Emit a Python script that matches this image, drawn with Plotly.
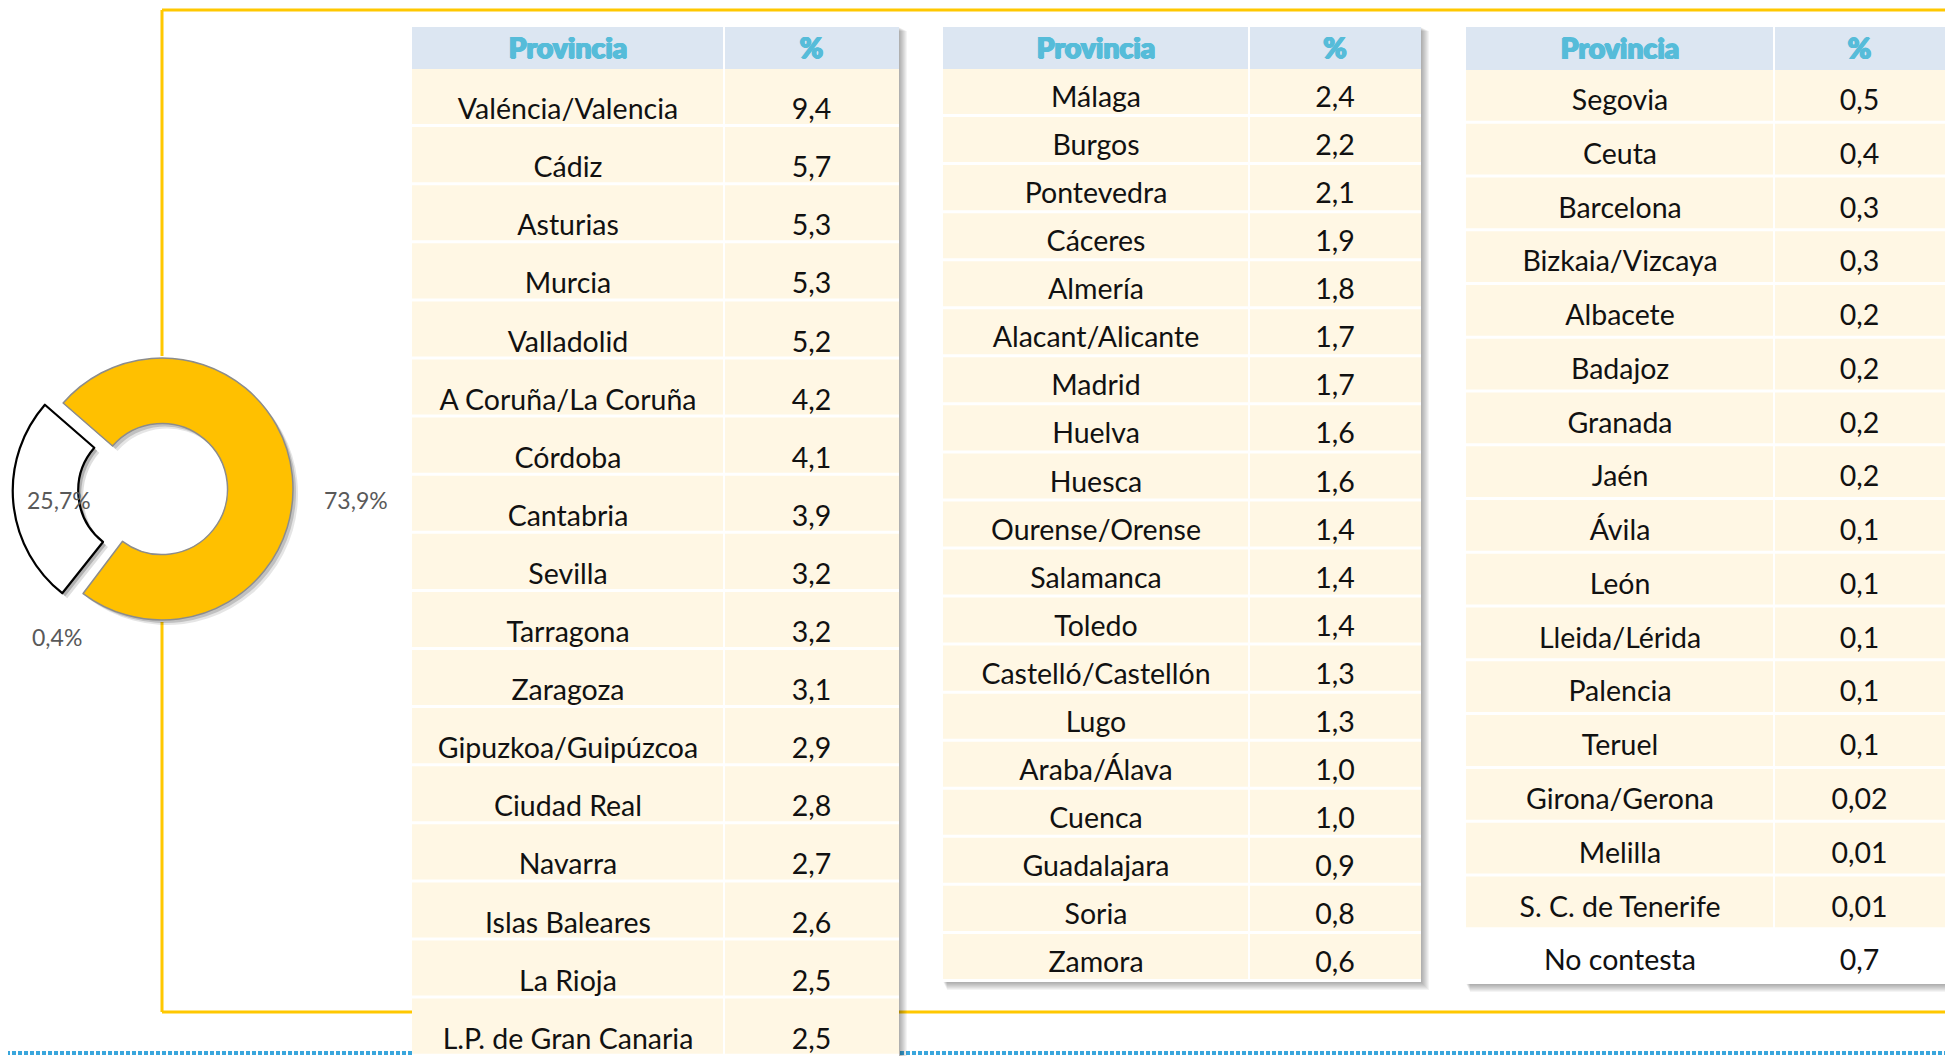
import plotly.graph_objects as go

W, H = 1953, 1056
OFF = 8  # page body margin offset so that coordinates match screen pixels

# ---------------- data ----------------
donut_labels = ["Sí", "No contesta", "No"]
donut_values = [73.9, 0.4, 25.7]
donut_colors = ["#FFC000", "rgba(0,0,0,0)", "#FFFFFF"]

header_labels = ["Provincia", "%"]

t1_prov = ["Valéncia/Valencia", "Cádiz", "Asturias", "Murcia", "Valladolid",
           "A Coruña/La Coruña", "Córdoba", "Cantabria", "Sevilla", "Tarragona",
           "Zaragoza", "Gipuzkoa/Guipúzcoa", "Ciudad Real", "Navarra",
           "Islas Baleares", "La Rioja", "L.P. de Gran Canaria"]
t1_pct = [9.4, 5.7, 5.3, 5.3, 5.2, 4.2, 4.1, 3.9, 3.2, 3.2, 3.1, 2.9, 2.8, 2.7,
          2.6, 2.5, 2.5]

t2_prov = ["Málaga", "Burgos", "Pontevedra", "Cáceres", "Almería",
           "Alacant/Alicante", "Madrid", "Huelva", "Huesca", "Ourense/Orense",
           "Salamanca", "Toledo", "Castelló/Castellón", "Lugo", "Araba/Álava",
           "Cuenca", "Guadalajara", "Soria", "Zamora"]
t2_pct = [2.4, 2.2, 2.1, 1.9, 1.8, 1.7, 1.7, 1.6, 1.6, 1.4, 1.4, 1.4, 1.3, 1.3,
          1.0, 1.0, 0.9, 0.8, 0.6]

t3_prov = ["Segovia", "Ceuta", "Barcelona", "Bizkaia/Vizcaya", "Albacete",
           "Badajoz", "Granada", "Jaén", "Ávila", "León", "Lleida/Lérida",
           "Palencia", "Teruel", "Girona/Gerona", "Melilla",
           "S. C. de Tenerife", "No contesta"]
t3_pct = [0.5, 0.4, 0.3, 0.3, 0.2, 0.2, 0.2, 0.2, 0.1, 0.1, 0.1, 0.1, 0.1,
          0.02, 0.01, 0.01, 0.7]


def fmt(v):
    s = f"{v:.1f}" if round(v, 1) == v else f"{v:.2f}"
    return s.replace(".", ",")


# ---------------- styles ----------------
YELLOW_LINE = "#FFC800"
HEADER_FILL = "#DCE6F2"
ROW_FILL = "#FFF7E4"
HDR_COLOR = "#56BCD9"
HEADER_FONT = dict(family="Lato", size=28.5, color=HDR_COLOR, weight=900,
                   shadow=(f"0.9px 0 0 {HDR_COLOR}, -0.9px 0 0 {HDR_COLOR}, "
                           f"0 0.7px 0 {HDR_COLOR}, 0 -0.4px 0 {HDR_COLOR}"))
BODY_FONT = dict(family="Lato", size=28.5, color="#111111")

tables = [
    dict(prov=t1_prov, pct=t1_pct, x0=412, xd=724, x1=899, ht=27, hb=69,
         pitch=58.1, toff=43, white_last=False),
    dict(prov=t2_prov, pct=t2_pct, x0=943, xd=1249, x1=1421, ht=27, hb=69,
         pitch=48.05, toff=31, white_last=False),
    dict(prov=t3_prov, pct=t3_pct, x0=1466, xd=1774, x1=1945, ht=27, hb=70,
         pitch=53.76, toff=33, white_last=True),
]

fig = go.Figure()
shapes = []

# frame (yellow) lines
frame_x, frame_top, frame_bot = 162, 10, 1012
for (x0, x1, y0, y1) in [(frame_x, W + 20, frame_top, frame_top),
                         (frame_x, W + 20, frame_bot, frame_bot),
                         (frame_x, frame_x, frame_top, 356),
                         (frame_x, frame_x, 622, frame_bot)]:
    shapes.append(dict(type="line", x0=x0, x1=x1, y0=y0, y1=y1,
                       line=dict(color=YELLOW_LINE, width=3), layer="below"))
# dotted bottom rule
shapes.append(dict(type="line", x0=0, x1=W + 20, y0=1053, y1=1053,
                   line=dict(color="#3AA6DC", width=4, dash="4px,2px"), layer="below"))

for t in tables:
    n = len(t["prov"])
    bottom = t["hb"] + n * t["pitch"]
    # soft shadow
    for k in range(1, 9):
        shapes.append(dict(type="rect", x0=t["x0"] + k * 0.5, x1=t["x1"] + k,
                           y0=t["ht"] + k * 0.5, y1=bottom + k,
                           line=dict(width=0), fillcolor="rgba(0,0,0,0.045)",
                           layer="below"))
    # white base
    shapes.append(dict(type="rect", x0=t["x0"], x1=t["x1"], y0=t["ht"], y1=bottom,
                       line=dict(width=0), fillcolor="white", layer="below"))
    # header cells
    shapes.append(dict(type="rect", x0=t["x0"], x1=t["xd"] - 1, y0=t["ht"], y1=t["hb"],
                       line=dict(width=0), fillcolor=HEADER_FILL, layer="below"))
    shapes.append(dict(type="rect", x0=t["xd"] + 1, x1=t["x1"], y0=t["ht"], y1=t["hb"],
                       line=dict(width=0), fillcolor=HEADER_FILL, layer="below"))
    ys = []
    for i in range(n):
        y0 = t["hb"] + i * t["pitch"]
        y1 = y0 + t["pitch"] - 3
        ys.append(y0 + t["toff"])
        fill = "white" if (t["white_last"] and i == n - 1) else ROW_FILL
        shapes.append(dict(type="rect", x0=t["x0"], x1=t["xd"] - 1, y0=y0, y1=y1,
                           line=dict(width=0), fillcolor=fill, layer="below"))
        shapes.append(dict(type="rect", x0=t["xd"] + 1, x1=t["x1"], y0=y0, y1=y1,
                           line=dict(width=0), fillcolor=fill, layer="below"))
    cx1 = (t["x0"] + t["xd"]) / 2
    cx2 = (t["xd"] + t["x1"]) / 2
    hy = (t["ht"] + t["hb"]) / 2 + 3
    fig.add_trace(go.Scatter(x=[cx1, cx2], y=[hy, hy], mode="text", text=header_labels,
                             textfont=HEADER_FONT, hoverinfo="skip", showlegend=False,
                             cliponaxis=False))
    fig.add_trace(go.Scatter(x=[cx1] * n, y=ys, mode="text", text=t["prov"],
                             textfont=BODY_FONT, hoverinfo="skip", showlegend=False,
                             cliponaxis=False))
    fig.add_trace(go.Scatter(x=[cx2] * n, y=ys, mode="text",
                             text=[fmt(v) for v in t["pct"]],
                             textfont=BODY_FONT, hoverinfo="skip", showlegend=False,
                             cliponaxis=False))

# ---------------- donut ----------------
cx, cy, R, pull = 162, 489, 131, 0.14
half = R * (1 + pull)


def px_to_paper_x(x):
    return (x - OFF) / W


def px_to_paper_y(y):
    return 1 - (y - OFF) / H


dom_x = [px_to_paper_x(cx - half), px_to_paper_x(cx + half)]
dom_y = [px_to_paper_y(cy + half), px_to_paper_y(cy - half)]
pulls = [0, pull, pull]

# soft shadow layers
for sh, alpha in [(5, 0.10), (3, 0.16)]:
    fig.add_trace(go.Pie(
        values=donut_values, labels=donut_labels, sort=False, direction="clockwise",
        rotation=-49, hole=0.5, pull=pulls,
        marker=dict(colors=[f"rgba(0,0,0,{alpha})", "rgba(0,0,0,0)",
                            f"rgba(0,0,0,{alpha * 1.3})"],
                    line=dict(width=0)),
        textinfo="none", hoverinfo="skip", showlegend=False,
        domain=dict(x=[dom_x[0] + sh / W, dom_x[1] + sh / W],
                    y=[dom_y[0] - sh / H, dom_y[1] - sh / H])))

fig.add_trace(go.Pie(
    values=donut_values, labels=donut_labels, sort=False, direction="clockwise",
    rotation=-49, hole=0.5, pull=pulls,
    marker=dict(colors=donut_colors,
                line=dict(color=["#8C8C8C", "rgba(0,0,0,0)", "#000000"],
                          width=[1.5, 0, 2.2])),
    textinfo="none", hoverinfo="skip", showlegend=False,
    domain=dict(x=dom_x, y=dom_y)))

label_pos = [(356, 500), (57, 637), (59, 500)]
annotations = []
for v, (lx, ly) in zip(donut_values, label_pos):
    annotations.append(dict(x=lx, y=ly, xref="x", yref="y", text=fmt(v) + "%",
                            showarrow=False,
                            font=dict(family="Lato", size=23, color="#595959")))

fig.update_layout(
    width=W, height=H, margin=dict(l=0, r=0, t=0, b=0),
    paper_bgcolor="white", plot_bgcolor="rgba(0,0,0,0)",
    xaxis=dict(range=[OFF, W + OFF], visible=False, fixedrange=True),
    yaxis=dict(range=[H + OFF, OFF], visible=False, fixedrange=True),
    shapes=shapes, annotations=annotations, showlegend=False,
)

fig.write_html("out.html")
